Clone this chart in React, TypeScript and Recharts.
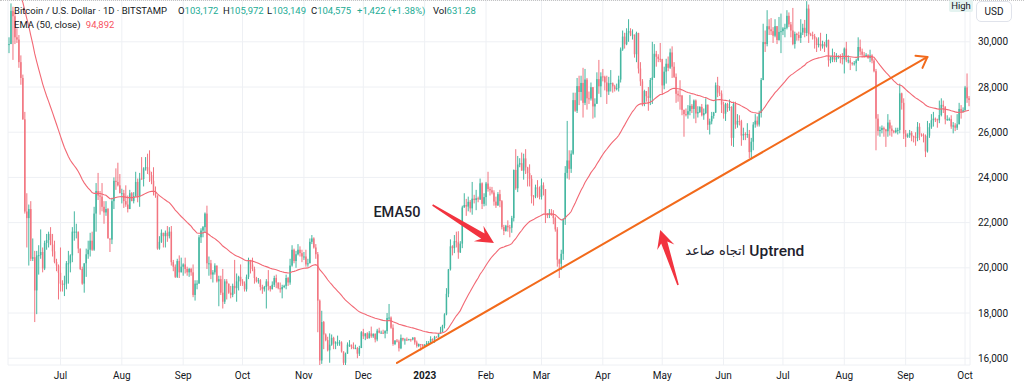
import React from "react";
import {
  ComposedChart,
  Bar,
  Line,
  XAxis,
  YAxis,
  CartesianGrid,
  ReferenceLine,
  ReferenceDot,
} from "recharts";

// daily candles, [high, low, close] in thousands of USD; open = previous close
type HLC = [number, number, number];

const OPEN_FIRST = 29.86;
const EMA_SEED = 32.6; // EMA(50) value just before the first visible candle
const EMA_LEN = 50;

const jun22: HLC[] = [
  [30.2, 29.5, 29.9], [31.7, 29.9, 31.37], [31.55, 29.2, 31.13], [31.3, 29.9, 30.2], [30.6, 29.95, 30.1], [30.3, 28.85, 29.1], [29.4, 28.1, 28.4],
  [28.55, 26.55, 26.57], [26.9, 22.4, 22.49], [23.3, 20.9, 22.2], [22.8, 20.1, 22.6], [22.95, 20.3, 20.4], [21.3, 20.3, 20.47], [20.75, 17.6, 19.0],
  [20.75, 17.95, 20.55], [21.0, 19.7, 20.56], [21.7, 20.4, 20.7], [20.9, 19.8, 19.97], [21.2, 19.9, 21.1], [21.5, 20.8, 21.23], [21.6, 20.9, 21.5],
  [21.8, 21.0, 21.03], [21.5, 20.5, 20.73], [21.2, 20.2, 20.26], [20.4, 19.85, 20.1], [20.15, 18.6, 19.78],
];
const jul22: HLC[] = [
  [20.9, 18.95, 19.3], [19.45, 18.95, 19.25], [19.65, 18.75, 19.3], [20.3, 19.05, 20.2], [20.75, 19.3, 20.2], [20.6, 19.8, 20.55], [21.8, 20.25, 21.6],
  [22.5, 21.2, 21.6], [21.95, 21.3, 21.6], [21.6, 20.65, 20.85], [20.85, 19.9, 19.95], [20.05, 19.25, 19.3], [20.2, 18.9, 20.2], [20.85, 19.6, 20.6],
  [21.2, 20.4, 20.8], [21.55, 20.5, 21.2], [21.6, 20.75, 20.8], [22.7, 20.75, 22.4], [23.75, 21.6, 23.4], [24.2, 23.0, 23.2], [23.4, 22.35, 23.15],
  [23.75, 22.5, 22.7], [22.95, 21.95, 22.45], [22.95, 22.3, 22.6], [22.65, 21.3, 21.3], [21.3, 20.7, 21.25], [23.1, 21.05, 22.95], [24.0, 22.6, 23.85],
  [24.4, 23.45, 23.8], [24.65, 23.6, 23.65], [24.15, 23.3, 23.3],
];
const aug22: HLC[] = [
  [23.5, 22.85, 23.3], [23.45, 22.65, 22.95], [23.65, 22.7, 22.8], [23.2, 22.45, 22.6], [23.45, 22.6, 23.3], [23.35, 22.95, 22.95], [23.35, 22.85, 23.17],
  [24.25, 23.15, 23.8], [23.95, 22.9, 23.15], [24.2, 22.7, 23.95], [24.9, 23.9, 23.93], [24.45, 23.6, 24.4], [24.9, 24.3, 24.45], [25.05, 24.15, 24.3],
  [25.2, 23.8, 24.1], [24.25, 23.7, 23.85], [24.45, 23.2, 23.35], [23.6, 23.1, 23.2], [23.2, 20.8, 20.85], [21.4, 20.8, 21.15], [21.7, 21.1, 21.55],
  [21.55, 20.9, 21.4], [21.65, 20.9, 21.55], [21.85, 21.15, 21.4], [21.8, 21.3, 21.6], [21.85, 20.1, 20.25], [20.35, 19.85, 20.05], [20.15, 19.55, 19.6],
  [20.4, 19.55, 20.3], [20.55, 19.55, 19.8], [20.45, 19.8, 20.05],
];
const sep22: HLC[] = [
  [20.2, 19.65, 20.15], [20.45, 19.75, 19.95], [20.05, 19.65, 19.8], [20.0, 19.6, 19.95], [20.0, 19.65, 19.8], [20.15, 18.7, 18.8], [19.45, 18.55, 19.3],
  [19.45, 19.05, 19.3], [21.45, 19.3, 21.35], [21.75, 21.1, 21.65], [21.85, 21.35, 21.8], [22.45, 21.55, 22.4], [22.75, 19.95, 20.2], [20.5, 19.65, 20.2],
  [20.35, 19.5, 19.7], [19.9, 19.35, 19.8], [20.2, 19.7, 20.1], [20.1, 19.35, 19.4], [19.65, 18.3, 19.5], [19.65, 18.8, 18.9], [19.95, 18.2, 18.5],
  [19.5, 18.4, 19.4], [19.5, 18.6, 19.3], [19.3, 18.85, 18.9], [19.2, 18.65, 18.8], [19.3, 18.7, 19.2], [20.35, 18.85, 19.1], [19.75, 18.5, 19.4],
  [19.65, 19.0, 19.6], [20.15, 19.2, 19.4],
];
const oct22: HLC[] = [
  [19.5, 19.2, 19.3], [19.4, 18.95, 19.05], [19.7, 18.95, 19.6], [20.45, 19.5, 20.35], [20.35, 19.75, 20.15], [20.45, 19.85, 19.95], [20.05, 19.3, 19.55],
  [19.6, 19.35, 19.4], [19.55, 19.3, 19.45], [19.5, 19.0, 19.15], [19.25, 18.85, 19.05], [19.2, 18.95, 19.15], [19.5, 18.2, 19.4], [19.9, 19.0, 19.2],
  [19.2, 18.95, 19.05], [19.4, 19.05, 19.25], [19.65, 19.15, 19.55], [19.7, 19.1, 19.35], [19.35, 19.05, 19.1], [19.35, 18.9, 19.05], [19.25, 18.65, 19.15],
  [19.25, 19.1, 19.2], [19.7, 19.05, 19.55], [19.6, 19.2, 19.35], [20.4, 19.25, 20.1], [21.0, 20.05, 20.8], [20.85, 20.2, 20.3], [20.75, 20.0, 20.6],
  [21.05, 20.55, 20.8], [20.95, 20.5, 20.65], [20.8, 20.25, 20.5],
];
const nov22: HLC[] = [
  [20.7, 20.35, 20.5], [20.8, 20.05, 20.15], [20.4, 20.05, 20.2], [21.3, 20.2, 21.15], [21.45, 21.05, 21.3], [21.35, 20.85, 20.9], [21.05, 20.4, 20.6],
  [20.7, 17.15, 18.55], [18.6, 15.6, 15.9], [18.1, 15.75, 17.6], [17.65, 16.4, 17.05], [17.1, 16.75, 16.8], [16.95, 16.3, 16.35], [17.1, 15.8, 16.6],
  [17.05, 16.55, 16.9], [16.95, 16.4, 16.65], [16.75, 16.4, 16.7], [17.0, 16.55, 16.7], [16.8, 16.55, 16.7], [16.75, 16.25, 16.3], [16.3, 15.5, 15.8],
  [16.25, 15.65, 16.2], [16.7, 16.2, 16.6], [16.8, 16.5, 16.6], [16.6, 16.4, 16.5], [16.7, 16.4, 16.45], [16.6, 16.4, 16.45], [16.5, 16.0, 16.2],
  [16.55, 16.1, 16.45], [17.2, 16.45, 17.15],
];
const dec22: HLC[] = [
  [17.3, 16.85, 16.97], [17.1, 16.8, 17.1], [17.15, 16.85, 16.88], [17.2, 16.88, 17.1], [17.4, 16.9, 16.97], [17.1, 16.9, 17.08], [17.1, 16.7, 16.83],
  [17.3, 16.75, 17.22], [17.35, 17.1, 17.13], [17.22, 17.09, 17.13], [17.26, 17.07, 17.1], [17.24, 16.88, 17.2], [18.0, 17.08, 17.78], [18.4, 17.65, 17.8],
  [17.85, 17.3, 17.35], [17.5, 16.55, 16.63], [16.8, 16.58, 16.78], [16.85, 16.7, 16.74], [16.82, 16.3, 16.44], [17.05, 16.4, 16.9], [16.9, 16.75, 16.82],
  [16.88, 16.6, 16.83], [16.92, 16.76, 16.8], [16.86, 16.79, 16.84], [16.86, 16.73, 16.83], [16.93, 16.79, 16.91], [16.94, 16.6, 16.7], [16.78, 16.47, 16.54],
  [16.65, 16.49, 16.63], [16.63, 16.34, 16.6], [16.63, 16.47, 16.53],
];
const jan23: HLC[] = [
  [16.62, 16.5, 16.61], [16.76, 16.55, 16.67], [16.76, 16.6, 16.67], [16.97, 16.66, 16.85], [16.88, 16.75, 16.83], [16.99, 16.68, 16.95], [16.97, 16.91, 16.94],
  [17.1, 16.91, 17.09], [17.39, 17.08, 17.18], [17.48, 17.15, 17.44], [17.99, 17.32, 17.94], [19.1, 17.9, 18.85], [19.95, 18.7, 19.93], [21.26, 19.88, 20.95],
  [21.0, 20.55, 20.87], [21.45, 20.65, 21.18], [21.6, 20.9, 21.13], [21.62, 20.4, 20.68], [21.18, 20.66, 21.07], [22.75, 20.87, 22.67], [23.3, 22.66, 22.78],
  [23.05, 22.3, 22.71], [23.15, 22.5, 22.92], [23.0, 22.45, 22.63], [23.8, 22.35, 23.06], [23.23, 22.85, 23.0], [23.45, 22.55, 23.08], [23.15, 22.9, 23.03],
  [23.95, 23.0, 23.74], [23.78, 22.6, 22.83], [23.3, 22.72, 23.13],
];
const feb23: HLC[] = [
  [23.8, 22.75, 23.73], [24.25, 23.37, 23.49], [23.59, 23.2, 23.43], [23.58, 23.25, 23.33], [23.43, 22.75, 22.93], [23.15, 22.65, 22.76], [23.35, 22.74, 23.26],
  [23.45, 22.68, 22.95], [23.0, 21.7, 21.8], [21.9, 21.45, 21.63], [21.9, 21.6, 21.86], [22.1, 21.6, 21.79], [21.9, 21.35, 21.77], [22.3, 21.55, 22.2],
  [24.35, 22.05, 24.33], [25.25, 23.45, 23.52], [24.95, 23.35, 24.57], [24.85, 24.45, 24.63], [25.1, 24.3, 24.3], [25.05, 23.9, 24.84], [25.25, 24.15, 24.44],
  [24.47, 23.6, 24.19], [24.58, 23.6, 23.94], [24.1, 22.85, 23.17], [23.22, 22.75, 23.16], [23.68, 23.08, 23.56], [23.88, 23.1, 23.49], [23.6, 23.03, 23.14],
];
const mar23: HLC[] = [
  [23.95, 23.02, 23.65], [23.78, 23.2, 23.48], [23.48, 21.98, 22.36], [22.42, 22.2, 22.35], [22.6, 22.2, 22.43], [22.6, 22.3, 22.41], [22.55, 21.93, 22.2],
  [22.27, 21.6, 21.7], [21.8, 20.05, 20.36], [20.4, 19.55, 20.18], [20.8, 19.9, 20.62], [22.2, 20.35, 22.16], [24.5, 21.9, 24.2], [26.5, 23.95, 24.75],
  [25.2, 23.9, 24.38], [25.2, 24.2, 25.05], [27.75, 25.0, 27.42], [27.75, 26.9, 26.95], [28.4, 26.85, 28.04], [28.5, 27.2, 27.78], [28.5, 27.4, 28.18],
  [28.85, 26.65, 27.3], [28.8, 27.2, 28.33], [28.4, 27.0, 27.5], [27.8, 27.25, 27.49], [28.2, 27.4, 27.99], [28.0, 26.6, 27.14], [27.5, 26.65, 27.26],
  [28.65, 27.25, 28.35], [29.2, 27.7, 28.03], [28.65, 27.55, 28.47],
];
const apr23: HLC[] = [
  [28.8, 28.25, 28.45], [28.5, 27.85, 28.2], [28.5, 27.25, 27.8], [28.45, 27.65, 28.17], [28.75, 27.8, 28.17], [28.2, 27.75, 28.03], [28.1, 27.8, 27.91],
  [28.15, 27.85, 27.95], [28.5, 27.8, 28.33], [29.75, 28.2, 29.66], [30.5, 29.6, 30.23], [30.4, 29.7, 29.89], [30.6, 29.85, 30.4], [31.0, 30.0, 30.48],
  [30.6, 30.25, 30.32], [30.55, 30.1, 30.32], [30.3, 29.3, 29.45], [30.45, 29.1, 30.39], [30.4, 28.6, 28.82], [29.1, 28.05, 28.25], [28.35, 27.15, 27.27],
  [27.88, 27.15, 27.82], [27.82, 27.35, 27.59], [28.0, 26.95, 27.52], [28.4, 27.2, 28.31], [30.0, 27.25, 28.42], [29.9, 28.4, 29.47], [29.6, 28.9, 29.34],
  [29.45, 29.1, 29.25], [29.95, 29.1, 29.23],
];
const may23: HLC[] = [
  [29.25, 27.65, 28.07], [28.9, 27.9, 28.68], [29.25, 28.15, 29.03], [29.35, 28.7, 28.85], [29.7, 28.8, 29.53], [29.8, 28.4, 28.9], [29.1, 28.4, 28.45],
  [28.6, 27.3, 27.7], [27.85, 27.35, 27.63], [28.3, 27.0, 27.62], [27.65, 26.75, 26.99], [27.0, 25.8, 26.8], [27.05, 26.7, 26.78], [27.2, 26.6, 26.93],
  [27.65, 26.75, 27.17], [27.25, 26.85, 27.03], [27.45, 26.6, 27.4], [27.45, 26.4, 26.83], [27.15, 26.65, 26.89], [27.15, 26.85, 27.12], [27.25, 26.7, 26.75],
  [27.05, 26.55, 26.85], [27.5, 26.8, 27.22], [27.2, 26.1, 26.33], [26.6, 25.9, 26.48], [26.9, 26.35, 26.72], [26.9, 26.6, 26.87], [28.2, 26.85, 28.08],
  [28.45, 27.55, 27.75], [28.05, 27.6, 27.71], [27.85, 26.85, 27.22],
];
const jun23: HLC[] = [
  [27.35, 26.6, 26.82], [27.3, 26.5, 27.25], [27.3, 26.9, 27.07], [27.45, 26.95, 27.12], [27.15, 25.4, 25.75], [27.35, 25.35, 27.24], [27.35, 26.15, 26.34],
  [26.8, 26.2, 26.5], [26.75, 26.3, 26.48], [26.55, 25.4, 25.85], [26.2, 25.65, 25.92], [26.0, 25.65, 25.9], [26.4, 25.75, 25.92], [26.1, 24.85, 25.12],
  [25.75, 24.8, 25.58], [26.45, 25.2, 26.34], [26.8, 26.2, 26.51], [26.7, 26.25, 26.34], [26.95, 26.25, 26.85], [28.4, 26.65, 28.31], [30.8, 28.3, 29.99],
  [30.5, 29.55, 29.9], [31.4, 29.8, 30.69], [31.0, 30.3, 30.55], [31.05, 30.3, 30.47], [30.65, 29.95, 30.27], [31.0, 30.2, 30.69], [30.7, 29.9, 30.08],
  [31.1, 30.05, 30.44], [31.25, 29.5, 30.47],
];
const jul23: HLC[] = [
  [30.65, 30.3, 30.59], [30.8, 30.2, 30.62], [31.4, 30.55, 31.15], [31.3, 30.65, 30.77], [30.88, 30.2, 30.5], [31.5, 29.85, 29.9], [30.45, 29.7, 30.35],
  [30.4, 30.05, 30.3], [30.45, 30.05, 30.17], [31.0, 29.95, 30.41], [30.8, 30.3, 30.62], [30.97, 30.2, 30.39], [31.8, 30.25, 31.47], [31.65, 29.95, 30.33],
  [30.4, 30.25, 30.3], [30.45, 30.1, 30.25], [30.35, 29.7, 30.14], [30.2, 29.55, 29.86], [30.2, 29.75, 29.91], [30.4, 29.6, 29.8], [30.05, 29.7, 29.9],
  [30.0, 29.55, 29.8], [30.35, 29.75, 30.08], [30.1, 28.9, 29.18], [29.35, 29.05, 29.23], [29.7, 29.1, 29.35], [29.55, 29.1, 29.21], [29.5, 29.1, 29.31],
  [29.4, 29.25, 29.35], [29.45, 29.05, 29.28], [29.5, 29.0, 29.23],
];
const aug23: HLC[] = [
  [29.75, 28.6, 29.7], [30.0, 29.1, 29.18], [29.4, 29.05, 29.18], [29.3, 28.75, 29.07], [29.1, 28.95, 29.05], [29.15, 28.95, 29.05], [29.25, 28.7, 29.18],
  [30.2, 29.15, 29.77], [30.1, 29.4, 29.57], [29.7, 29.3, 29.43], [29.55, 29.3, 29.4], [29.5, 29.35, 29.42], [29.45, 29.25, 29.28], [29.65, 29.1, 29.4],
  [29.45, 29.05, 29.17], [29.25, 28.65, 28.7], [28.8, 25.2, 26.6], [26.8, 25.85, 26.05], [26.25, 25.8, 26.1], [26.3, 25.95, 26.19], [26.25, 25.8, 26.12],
  [26.15, 25.35, 26.04], [26.8, 25.8, 26.43], [26.55, 25.85, 26.16], [26.3, 25.8, 26.05], [26.1, 25.95, 26.0], [26.2, 25.95, 26.09], [26.2, 25.9, 26.1],
  [28.15, 25.95, 27.72], [27.75, 27.0, 27.3], [27.5, 25.7, 25.94],
];
const sep23: HLC[] = [
  [26.1, 25.35, 25.8], [25.95, 25.75, 25.87], [26.1, 25.75, 25.97], [26.05, 25.6, 25.82], [25.85, 25.55, 25.78], [26.0, 25.4, 25.75], [26.45, 25.6, 26.24],
  [26.4, 25.65, 25.9], [25.95, 25.8, 25.89], [25.95, 25.55, 25.83], [25.9, 24.9, 25.15], [26.5, 25.1, 25.85], [26.4, 25.75, 26.22], [26.8, 26.15, 26.53],
  [26.9, 26.25, 26.6], [26.65, 26.45, 26.57], [26.6, 26.2, 26.53], [27.4, 26.4, 26.76], [27.5, 26.7, 27.21], [27.4, 26.85, 27.13], [27.15, 26.35, 26.57],
  [26.75, 26.5, 26.58], [26.65, 26.5, 26.58], [26.75, 26.15, 26.25], [26.45, 25.95, 26.3], [26.4, 26.05, 26.2], [26.8, 26.1, 26.35], [27.3, 26.35, 27.03],
  [27.2, 26.6, 26.9], [27.1, 26.9, 26.97],
];
const oct23: HLC[] = [[28.05, 26.95, 27.98], [28.6, 27.3, 27.5], [27.6, 27.15, 27.43]];

const months = [jun22, jul22, aug22, sep22, oct22, nov22, dec22, jan23, feb23, mar23, apr23, may23, jun23, jul23, aug23, sep23, oct23];
// label for the first day of every month after June 2022
const tickLabels = ["Jul", "Aug", "Sep", "Oct", "Nov", "Dec", "2023", "Feb", "Mar", "Apr", "May", "Jun", "Jul", "Aug", "Sep", "Oct"];
const priceTicks = [16000, 18000, 20000, 22000, 24000, 26000, 28000, 30000];

// drawings, as [candle index, price]
const trendLine: [number, number][] = [[196, 15790], [464, 29330]];
const emaArrow: [number, number][] = [[214, 22780], [245, 21100]];
const upArrow: [number, number][] = [[338, 19240], [329, 21670]];
const emaLabelAt: [number, number] = [196, 22470];
const trendLabelAt: [number, number] = [373, 20790];

const UP = "#45b7a1";
const DOWN = "#f27580";
const TEXT = "#131722";

type Row = { i: number; o: number; h: number; l: number; c: number; range: [number, number]; ema: number };

const rows: Row[] = [];
const tickIdx: number[] = [];
const tickName: Record<number, string> = {};
let prevClose = OPEN_FIRST * 1000;
let ema = EMA_SEED * 1000;
const k = 2 / (EMA_LEN + 1);
months.forEach((m, mi) => {
  if (mi > 0) {
    tickIdx.push(rows.length);
    tickName[rows.length] = tickLabels[mi - 1];
  }
  m.forEach(([h, l, c]) => {
    const o = prevClose;
    const close = c * 1000;
    const hi = Math.max(h * 1000, o, close);
    const lo = Math.min(l * 1000, o, close);
    ema = ema + k * (close - ema);
    rows.push({ i: rows.length, o, h: hi, l: lo, c: close, range: [lo, hi], ema });
    prevClose = close;
  });
});

function Candle(props: any) {
  const { x, y, width, height, payload } = props;
  if (!payload || x == null) return null;
  const { o, h, l, c } = payload as Row;
  const top = Math.min(y, y + height);
  const bottom = Math.max(y, y + height);
  const py = (p: number) => (h === l ? top : top + ((h - p) / (h - l)) * (bottom - top));
  const cx = x + width / 2;
  const color = c >= o ? UP : DOWN;
  const bTop = py(Math.max(o, c));
  const bBot = py(Math.min(o, c));
  return (
    <g>
      <rect x={cx - 0.5} y={top} width={1} height={Math.max(bottom - top, 1)} fill={color} />
      <rect x={cx - 0.75} y={bTop} width={1.5} height={Math.max(1, bBot - bTop)} fill={color} />
    </g>
  );
}

function TrendShape(props: any) {
  const { x1, y1, x2, y2 } = props;
  const len = Math.hypot(x2 - x1, y2 - y1);
  const ux = (x2 - x1) / len;
  const uy = (y2 - y1) / len;
  const wing = (a: number) => {
    const bx = -ux, by = -uy;
    const c = Math.cos(a), s = Math.sin(a);
    return [x2 + 12 * (bx * c - by * s), y2 + 12 * (bx * s + by * c)];
  };
  const [ax, ay] = wing(0.62);
  const [bx, by] = wing(-0.62);
  return (
    <g stroke="#f26a1b" strokeWidth={2} fill="none" strokeLinecap="round" strokeLinejoin="round">
      <line x1={x1} y1={y1} x2={x2} y2={y2} />
      <polyline points={`${ax},${ay} ${x2},${y2} ${bx},${by}`} />
    </g>
  );
}

function RedArrow(props: any) {
  const { x1, y1, x2, y2 } = props;
  const len = Math.hypot(x2 - x1, y2 - y1);
  const ux = (x2 - x1) / len;
  const uy = (y2 - y1) / len;
  const nx = -uy;
  const ny = ux;
  const head = 15;
  const pt = (d: number, w: number) => `${x2 - ux * d + nx * w},${y2 - uy * d + ny * w}`;
  const pts = [pt(len, 0.8), pt(head - 2, 3.2), pt(head + 3, 9), pt(0, 0), pt(head + 3, -9), pt(head - 2, -3.2), pt(len, -0.8)];
  return <polygon points={pts.join(" ")} fill="#f2333f" />;
}

function MonthTick(props: any) {
  const { x, y, payload } = props;
  const label = tickName[payload.value];
  return (
    <text x={x} y={y} dy="0.75em" textAnchor="middle" fontSize={10} fill={TEXT} fontWeight={label === "2023" ? 700 : 400}>
      {label}
    </text>
  );
}

const ui: React.CSSProperties = { position: "absolute", fontFamily: "Roboto, 'Liberation Sans', sans-serif", fontSize: 9.5, color: TEXT, whiteSpace: "nowrap", lineHeight: "11px" };
const green = { color: "#22ab94" };

export default function App() {
  return (
    <div style={{ position: "absolute", left: 0, top: 0, width: 1024, height: 392, background: "#fff", overflow: "hidden" }}>
      <ComposedChart width={1024} height={392} data={rows} margin={{ top: 0, right: 0, bottom: 0, left: 8 }} barCategoryGap={0} barGap={0} style={{ fontFamily: "Roboto, 'Liberation Sans', sans-serif" }}>
        <CartesianGrid stroke="#eef0f4" />
        <XAxis dataKey="i" type="category" ticks={tickIdx} interval={0} axisLine={false} tickLine={false} height={27} tickSize={4} tickMargin={2} tick={<MonthTick />} />
        <YAxis
          orientation="right"
          width={54}
          domain={[15700, 31850]}
          allowDataOverflow
          ticks={priceTicks}
          axisLine={false}
          tickLine={false}
          tick={{ fontSize: 10, fill: TEXT }}
          tickFormatter={(v: number) => v.toLocaleString("en-US")}
        />
        <Bar dataKey="range" shape={Candle} isAnimationActive={false} />
        <Line dataKey="ema" type="linear" dot={false} stroke="#f26874" strokeWidth={1.1} isAnimationActive={false} />
        <ReferenceLine segment={trendLine.map(([x, y]) => ({ x, y }))} ifOverflow="visible" shape={TrendShape} />
        <ReferenceLine segment={emaArrow.map(([x, y]) => ({ x, y }))} ifOverflow="visible" shape={RedArrow} />
        <ReferenceLine segment={upArrow.map(([x, y]) => ({ x, y }))} ifOverflow="visible" shape={RedArrow} />
        <ReferenceDot
          x={emaLabelAt[0]}
          y={emaLabelAt[1]}
          r={0}
          ifOverflow="visible"
          shape={(p: any) => (
            <text x={p.cx} y={p.cy} dy="0.36em" textAnchor="middle" fontSize={14.5} fontWeight={500} fill="#1e222d">
              EMA50
            </text>
          )}
        />
        <ReferenceDot
          x={trendLabelAt[0]}
          y={trendLabelAt[1]}
          r={0}
          ifOverflow="visible"
          shape={(p: any) => (
            <g>
              <text x={p.cx - 2} y={p.cy} dy="0.36em" textAnchor="end" fontSize={13} fill="#1e222d" fontFamily="'DejaVu Sans', sans-serif">
                اتجاه صاعد
              </text>
              <text x={p.cx + 2} y={p.cy} dy="0.36em" textAnchor="start" fontSize={15.5} fontWeight={500} fill="#1e222d">
                Uptrend
              </text>
            </g>
          )}
        />
      </ComposedChart>

      <div style={{ position: "absolute", left: 0, top: 0, width: 1024, borderTop: "1px dotted #c4c4c4" }} />
      <div style={{ ...ui, left: 14, top: 5 }}>Bitcoin / U.S. Dollar · 1D · BITSTAMP</div>
      <div style={{ ...ui, left: 178, top: 5 }}>O<span style={green}>103,172</span></div>
      <div style={{ ...ui, left: 223, top: 5 }}>H<span style={green}>105,972</span></div>
      <div style={{ ...ui, left: 267, top: 5 }}>L<span style={green}>103,149</span></div>
      <div style={{ ...ui, left: 311, top: 5 }}>C<span style={green}>104,575</span></div>
      <div style={{ ...ui, left: 357, top: 5, ...green }}>+1,422 (+1.38%)</div>
      <div style={{ ...ui, left: 433, top: 5 }}>Vol<span style={green}>631.28</span></div>
      <div style={{ ...ui, left: 14, top: 18.5 }}>
        EMA (50, close) <span style={{ color: "#f7525f", marginLeft: 3 }}>94,892</span>
      </div>
      <div style={{ ...ui, left: 949, top: 0, width: 24, height: 12, lineHeight: "12px", textAlign: "center", background: "#e4f3f0", borderRadius: 2 }}>High</div>
      <div style={{ ...ui, left: 976, top: 1, width: 34, height: 19, lineHeight: "19px", textAlign: "center", fontSize: 10, border: "1px solid #e0e3eb", borderRadius: 5 }}>USD</div>
    </div>
  );
}
